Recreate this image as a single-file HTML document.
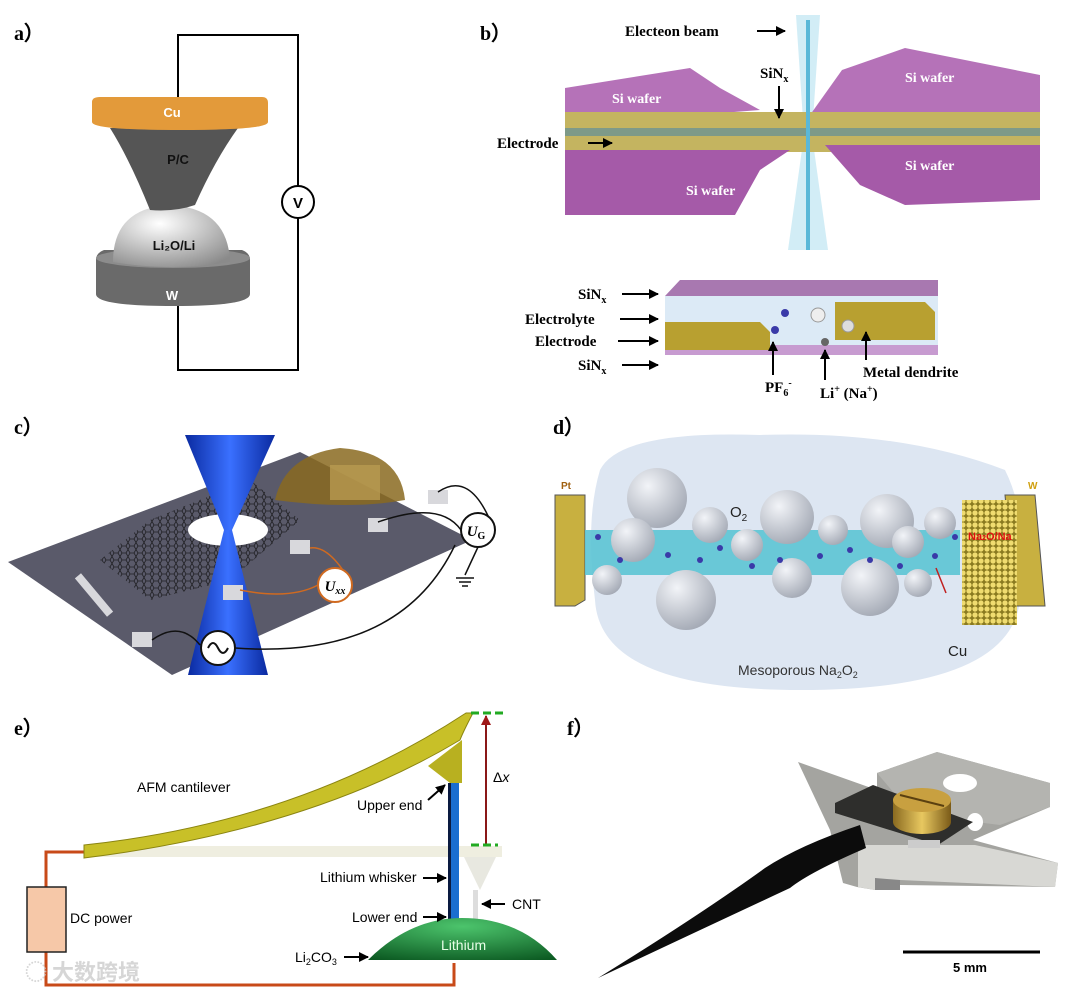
<!DOCTYPE html>
<html><head><meta charset="utf-8"><style>
html,body{margin:0;padding:0;background:#fff}
svg{display:block}
.s{font-family:"Liberation Serif",serif;font-weight:bold}
.a{font-family:"Liberation Sans",sans-serif}
</style></head><body>
<svg width="1080" height="993" viewBox="0 0 1080 993" xmlns="http://www.w3.org/2000/svg">
<defs>
<marker id="ar" viewBox="0 0 10 10" refX="9" refY="5" markerWidth="5" markerHeight="5" orient="auto"><path d="M0,0L10,5L0,10z" fill="#000"/></marker>
<marker id="rr" viewBox="0 0 10 10" refX="9" refY="5" markerWidth="5" markerHeight="5" orient="auto"><path d="M0,0L10,5L0,10z" fill="#a01818"/></marker>
<radialGradient id="dome" cx="0.4" cy="0.3" r="0.8"><stop offset="0" stop-color="#fff"/><stop offset="1" stop-color="#8a8a8a"/></radialGradient>
<radialGradient id="sph" cx="0.35" cy="0.3" r="0.8"><stop offset="0" stop-color="#f2f4f8"/><stop offset="1" stop-color="#9ea4b0"/></radialGradient>
<linearGradient id="beam" x1="0" x2="1"><stop offset="0" stop-color="#0a2aa0"/><stop offset="0.5" stop-color="#3a70ff"/><stop offset="1" stop-color="#0a2aa0"/></linearGradient>
<radialGradient id="li" cx="0.5" cy="0.2" r="0.9"><stop offset="0" stop-color="#4cc46c"/><stop offset="1" stop-color="#0c5a22"/></radialGradient>
<linearGradient id="gold" x1="0" x2="1"><stop offset="0" stop-color="#8a6a20"/><stop offset="0.5" stop-color="#e8c860"/><stop offset="1" stop-color="#7a5a18"/></linearGradient>
<pattern id="dots" width="6" height="6" patternUnits="userSpaceOnUse"><rect width="6" height="6" fill="#8a7a20"/><circle cx="3" cy="3" r="2.6" fill="#f0dc70"/></pattern>
<pattern id="hex" width="8" height="7" patternUnits="userSpaceOnUse"><path d="M0,3.5L2,0H6L8,3.5L6,7H2z" fill="none" stroke="#111" stroke-width="0.8"/></pattern>
</defs>

<!-- a -->
<text x="14" y="40" class="s" font-size="20">a）</text>
<polyline points="178,100 178,35 298,35 298,186" fill="none" stroke="#000" stroke-width="2"/>
<polyline points="298,218 298,370 178,370 178,300" fill="none" stroke="#000" stroke-width="2"/>
<circle cx="298" cy="202" r="16" fill="#fff" stroke="#000" stroke-width="2"/>
<text x="298" y="208" text-anchor="middle" class="a" font-weight="bold" font-size="15">V</text>
<path d="M96,260 Q96,253 104,250 L242,250 Q250,253 250,260 L250,294 Q250,306 173,306 Q96,306 96,294z" fill="#6a6a6a"/>
<ellipse cx="173" cy="258" rx="77" ry="10" fill="#8c8c8c"/>
<path d="M113,262 Q113,208 170,205 Q228,208 230,262 Q170,272 113,262z" fill="url(#dome)"/>
<path d="M110,128 L238,128 Q215,160 195,205 Q175,212 150,210 Q130,160 110,128z" fill="#555"/>
<path d="M92,102 Q92,97 100,97 L262,97 Q268,97 268,103 L268,122 Q268,130 180,130 Q92,130 92,122z" fill="#e39a3a"/>
<text x="172" y="117" text-anchor="middle" class="a" font-weight="bold" font-size="13" fill="#fff">Cu</text>
<text x="178" y="164" text-anchor="middle" class="a" font-weight="bold" font-size="13" fill="#111">P/C</text>
<text x="174" y="250" text-anchor="middle" class="a" font-weight="bold" font-size="13" fill="#111">Li₂O/Li</text>
<text x="172" y="300" text-anchor="middle" class="a" font-weight="bold" font-size="13" fill="#fff">W</text>

<!-- b -->
<text x="480" y="40" class="s" font-size="20">b）</text>
<path d="M796,15 L820,15 L812,135 L828,250 L788,250 L804,135z" fill="#bfe6f2" opacity="0.7"/>
<polygon points="565,88 690,68 720,88 760,110 565,125" fill="#b572b8"/>
<polygon points="842,70 905,48 1040,75 1040,115 810,115" fill="#b572b8"/>
<polygon points="565,112 1040,112 1040,152 565,152" fill="#c4b460"/>
<rect x="565" y="128" width="475" height="8" fill="#7e9a88"/>
<polygon points="565,150 790,150 760,170 735,215 565,215" fill="#a55aa8"/>
<polygon points="825,145 1040,145 1040,200 905,205 860,185" fill="#a55aa8"/>
<rect x="806" y="20" width="4" height="230" fill="#5ab8d8"/>
<g class="s" font-size="14" fill="#fff">
<text x="612" y="103">Si  wafer</text><text x="905" y="82">Si  wafer</text>
<text x="686" y="195">Si  wafer</text><text x="905" y="170">Si  wafer</text></g>
<g class="s" font-size="15">
<text x="625" y="36">Electeon beam</text>
<text x="760" y="78">SiN<tspan font-size="10" dy="4">x</tspan></text>
<text x="497" y="148">Electrode</text></g>
<line x1="757" y1="31" x2="785" y2="31" stroke="#000" stroke-width="2" marker-end="url(#ar)"/>
<line x1="779" y1="86" x2="779" y2="118" stroke="#000" stroke-width="2" marker-end="url(#ar)"/>
<line x1="588" y1="143" x2="612" y2="143" stroke="#000" stroke-width="2" marker-end="url(#ar)"/>

<polygon points="665,296 680,280 938,280 938,296" fill="#a878b0"/>
<rect x="665" y="296" width="273" height="50" fill="#dceaf6"/>
<rect x="665" y="345" width="273" height="10" fill="#c79bd0"/>
<polygon points="665,322 760,322 770,332 770,350 665,350" fill="#b8a030"/>
<polygon points="835,302 925,302 935,312 935,340 835,340" fill="#b8a030"/>
<circle cx="775" cy="330" r="4" fill="#3a3aa8"/><circle cx="785" cy="313" r="4" fill="#3a3aa8"/><circle cx="825" cy="342" r="4" fill="#666"/>
<circle cx="818" cy="315" r="7" fill="#eee" stroke="#999"/><circle cx="848" cy="326" r="6" fill="#ddd" stroke="#999"/>
<g class="s" font-size="15">
<text x="578" y="299">SiN<tspan font-size="10" dy="4">x</tspan></text>
<text x="525" y="324">Electrolyte</text>
<text x="535" y="346">Electrode</text>
<text x="578" y="370">SiN<tspan font-size="10" dy="4">x</tspan></text>
<text x="765" y="392">PF<tspan font-size="10" dy="4">6</tspan><tspan font-size="10" dy="-10">-</tspan></text>
<text x="820" y="398">Li<tspan font-size="10" dy="-6">+</tspan><tspan dy="6"> (Na</tspan><tspan font-size="10" dy="-6">+</tspan><tspan dy="6">)</tspan></text>
<text x="863" y="377">Metal dendrite</text></g>
<g stroke="#000" stroke-width="2" marker-end="url(#ar)">
<line x1="622" y1="294" x2="658" y2="294" /><line x1="620" y1="319" x2="658" y2="319"/>
<line x1="618" y1="341" x2="658" y2="341"/><line x1="622" y1="365" x2="658" y2="365"/>
<line x1="773" y1="375" x2="773" y2="342"/><line x1="825" y1="380" x2="825" y2="350"/>
<line x1="866" y1="360" x2="866" y2="332"/></g>

<!-- c -->
<text x="14" y="434" class="s" font-size="20">c）</text>
<polygon points="8,562 172,675 472,540 300,452" fill="#5a5a6a"/>
<polygon points="100,560 150,520 250,480 300,520 230,580 150,600" fill="url(#hex)" opacity="0.8"/>
<ellipse cx="228" cy="530" rx="40" ry="16" fill="#fff"/>
<path d="M185,435 L275,435 L232,530 L224,530z" fill="url(#beam)"/>
<path d="M224,530 L232,530 L268,675 L188,675z" fill="url(#beam)"/>
<path d="M275,500 Q285,455 340,448 Q400,452 405,500 Q350,510 275,500z" fill="#8a6a20" opacity="0.85"/>
<rect x="330" y="465" width="50" height="35" fill="#b89a50" opacity="0.8"/>
<g fill="#d8d8dc"><rect x="132" y="632" width="20" height="15"/><rect x="223" y="585" width="20" height="15"/><rect x="290" y="540" width="20" height="14"/><rect x="368" y="518" width="20" height="14"/><rect x="428" y="490" width="20" height="14"/><rect x="90" y="570" width="8" height="50" transform="rotate(-40 94 595)"/></g>
<path d="M152,640 Q180,620 200,645 M235,648 Q400,660 455,545" fill="none" stroke="#111" stroke-width="1.5"/>
<path d="M240,590 Q290,600 318,585 M352,585 Q330,545 310,548" fill="none" stroke="#d06a20" stroke-width="1.5"/>
<path d="M378,522 Q440,500 461,530 M438,492 Q470,470 492,525 M478,547 L465,575" fill="none" stroke="#111" stroke-width="1.5"/>
<circle cx="218" cy="648" r="17" fill="#fff" stroke="#111" stroke-width="2"/>
<path d="M208,648 Q213,638 218,648 Q223,658 228,648" fill="none" stroke="#111" stroke-width="2"/>
<circle cx="335" cy="585" r="17" fill="#fff" stroke="#d06a20" stroke-width="2"/>
<text x="335" y="591" text-anchor="middle" class="s" font-style="italic" font-weight="normal" font-size="15">U<tspan font-size="10" dy="3">xx</tspan></text>
<circle cx="478" cy="530" r="17" fill="#fff" stroke="#111" stroke-width="2"/>
<text x="476" y="536" text-anchor="middle" class="s" font-style="italic" font-weight="normal" font-size="15">U<tspan font-size="10" dy="3" font-style="normal">G</tspan></text>
<path d="M456,578 h18 M459,582 h12 M462,586 h6" stroke="#111" stroke-width="1.5"/>

<!-- d -->
<text x="553" y="434" class="s" font-size="20">d）</text>
<path d="M600,470 Q620,430 760,435 Q900,430 1005,470 Q1030,520 1020,600 Q1010,690 800,690 Q600,690 595,600 Q585,520 600,470z" fill="#dde6f2"/>
<polygon points="555,495 585,495 585,600 575,606 555,606" fill="#c8b040" stroke="#555" stroke-width="1"/>
<polygon points="1005,495 1035,495 1045,606 1015,606" fill="#c8b040" stroke="#555" stroke-width="1"/>
<rect x="962" y="500" width="55" height="125" fill="url(#dots)"/>
<polygon points="585,530 960,530 960,575 585,575" fill="#5cc4d4" opacity="0.9"/>
<g fill="url(#sph)">
<circle cx="657" cy="498" r="30"/><circle cx="633" cy="540" r="22"/><circle cx="607" cy="580" r="15"/>
<circle cx="710" cy="525" r="18"/><circle cx="686" cy="600" r="30"/><circle cx="747" cy="545" r="16"/>
<circle cx="787" cy="517" r="27"/><circle cx="792" cy="578" r="20"/><circle cx="833" cy="530" r="15"/>
<circle cx="870" cy="587" r="29"/><circle cx="887" cy="521" r="27"/><circle cx="908" cy="542" r="16"/>
<circle cx="918" cy="583" r="14"/><circle cx="940" cy="523" r="16"/></g>
<g fill="#3a3aa8"><circle cx="598" cy="537" r="3"/><circle cx="620" cy="560" r="3"/><circle cx="668" cy="555" r="3"/><circle cx="700" cy="560" r="3"/><circle cx="720" cy="548" r="3"/><circle cx="752" cy="566" r="3"/><circle cx="780" cy="560" r="3"/><circle cx="820" cy="556" r="3"/><circle cx="850" cy="550" r="3"/><circle cx="870" cy="560" r="3"/><circle cx="900" cy="566" r="3"/><circle cx="935" cy="556" r="3"/><circle cx="955" cy="537" r="3"/></g>
<line x1="936" y1="568" x2="946" y2="593" stroke="#c02020" stroke-width="1.5"/>
<text x="561" y="489" class="a" font-weight="bold" font-size="10" fill="#a06010">Pt</text>
<text x="1028" y="489" class="a" font-weight="bold" font-size="10" fill="#d0a010">W</text>
<text x="968" y="540" class="a" font-weight="bold" font-size="11" fill="#e01010">Na<tspan font-size="7">2</tspan>O/Na</text>
<text x="730" y="517" class="a" font-size="15" fill="#222">O<tspan font-size="10" dy="4">2</tspan></text>
<text x="948" y="656" class="a" font-size="15" fill="#222">Cu</text>
<text x="738" y="675" class="a" font-size="14" fill="#333">Mesoporous Na<tspan font-size="9" dy="3">2</tspan><tspan dy="-3">O</tspan><tspan font-size="9" dy="3">2</tspan></text>

<!-- e -->
<text x="14" y="735" class="s" font-size="20">e）</text>
<polyline points="84,852 46,852 46,887" fill="none" stroke="#c84a18" stroke-width="3"/>
<polyline points="46,952 46,985 454,985 454,963" fill="none" stroke="#c84a18" stroke-width="3"/>
<rect x="27" y="887" width="39" height="65" fill="#f6c8a8" stroke="#222" stroke-width="1.5"/>
<text x="70" y="923" class="a" font-size="14">DC power</text>
<rect x="84" y="846" width="418" height="11" fill="#efeee0"/>
<polygon points="464,857 496,857 480,890" fill="#e8e8e0"/>
<rect x="473" y="890" width="5" height="30" fill="#ddd"/>
<path d="M84,845 Q300,822 466,713 L473,713 Q463,732 460,740 Q310,830 84,858z" fill="#c8c028" stroke="#8a8410" stroke-width="1"/>
<polygon points="428,766 462,740 462,783 450,783" fill="#b8b020"/>
<rect x="448" y="783" width="11" height="137" fill="#1a6ed0"/>
<rect x="448" y="783" width="3" height="137" fill="#0a1a40"/>
<path d="M368,960 Q410,918 462,918 Q520,918 557,960z" fill="url(#li)"/>
<text x="441" y="950" class="a" font-size="14" fill="#e8ffe8">Lithium</text>
<line x1="486" y1="845" x2="486" y2="716" stroke="#8a1818" stroke-width="2" marker-end="url(#rr)"/>
<line x1="471" y1="713" x2="504" y2="713" stroke="#22aa22" stroke-width="3" stroke-dasharray="8,4"/>
<line x1="471" y1="845" x2="498" y2="845" stroke="#22aa22" stroke-width="3" stroke-dasharray="8,4"/>
<text x="493" y="782" class="a" font-size="14">Δ<tspan font-style="italic">x</tspan></text>
<text x="137" y="792" class="a" font-size="14">AFM cantilever</text>
<text x="357" y="810" class="a" font-size="14">Upper end</text>
<text x="320" y="882" class="a" font-size="14">Lithium whisker</text>
<text x="352" y="922" class="a" font-size="14">Lower end</text>
<text x="512" y="909" class="a" font-size="14">CNT</text>
<text x="295" y="962" class="a" font-size="14">Li<tspan font-size="9" dy="3">2</tspan><tspan dy="-3">CO</tspan><tspan font-size="9" dy="3">3</tspan></text>
<g stroke="#000" stroke-width="2" marker-end="url(#ar)">
<line x1="428" y1="800" x2="445" y2="785"/><line x1="423" y1="878" x2="446" y2="878"/>
<line x1="423" y1="917" x2="446" y2="917"/><line x1="505" y1="904" x2="482" y2="904"/>
<line x1="344" y1="957" x2="368" y2="957"/></g>
<text x="25" y="980" font-family="'Noto Sans CJK SC',sans-serif" font-size="22" font-weight="bold" fill="#ccc" opacity="0.8">◌ 大数跨境</text>

<!-- f -->
<text x="567" y="735" class="s" font-size="20">f）</text>
<polygon points="798,762 877,790 877,773 937,752 1050,783 1050,807 1012,823 973,840 1058,863 1055,887 900,885 875,890 857,887 843,883 830,830" fill="#a4a4a0"/>
<polygon points="877,773 937,752 1050,783 1050,807 1000,825 960,820 900,800" fill="#b4b4b0"/>
<polygon points="858,845 975,845 1058,863 1055,887 900,880 875,890 858,887" fill="#d8d8d4"/>
<polygon points="875,878 900,880 900,890 875,890" fill="#888"/>
<ellipse cx="960" cy="783" rx="17" ry="9" fill="#fff"/>
<ellipse cx="975" cy="822" rx="8" ry="9" fill="#fff"/>
<polygon points="835,803 873,785 973,822 938,845 835,813" fill="#2e2e2c"/>
<polygon points="908,840 940,840 940,848 908,848" fill="#ccc"/>
<path d="M893,800 L893,822 A29,12 0 0 0 951,822 L951,800z" fill="url(#gold)"/>
<ellipse cx="922" cy="800" rx="29" ry="12" fill="#c8a040"/>
<line x1="900" y1="795" x2="944" y2="806" stroke="#5a4010" stroke-width="2"/>
<path d="M598,978 Q700,915 765,868 Q800,845 860,825 L866,848 Q810,872 790,888 Q700,930 598,978z" fill="#0c0c0c"/>
<line x1="903" y1="952" x2="1040" y2="952" stroke="#000" stroke-width="3"/>
<text x="970" y="972" text-anchor="middle" class="a" font-weight="bold" font-size="13">5 mm</text>
</svg>
</body></html>
